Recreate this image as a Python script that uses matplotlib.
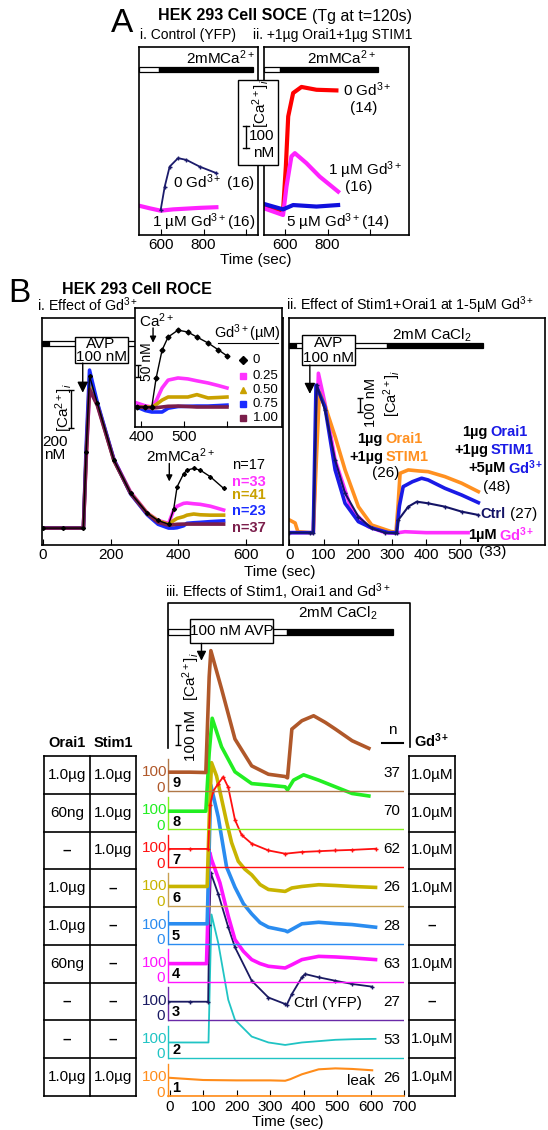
import numpy as np
import matplotlib
matplotlib.use('Agg')
import matplotlib.pyplot as plt
from matplotlib.patches import Rectangle

plt.rcParams['font.family'] = ['Liberation Sans', 'DejaVu Sans']
plt.rcParams['mathtext.fontset'] = 'custom'
plt.rcParams['mathtext.rm'] = 'Liberation Sans'
plt.rcParams['mathtext.it'] = 'Liberation Sans:italic'
plt.rcParams['mathtext.bf'] = 'Liberation Sans:bold'

# ---------------- data (time in s, [Ca2+]i in nM) ----------------

# A i. control (YFP), Ca added at ~600 s
a1_t_0gd = [600, 619, 642, 681, 720, 782, 860]
a1_0gd = [115, 223, 315, 354, 346, 315, 285]
a1_t_1gd = [499, 549, 600, 658, 782, 860]
a1_1gd = [135, 123, 112, 118, 125, 128]

# A ii. +1ug Orai1 + 1ug STIM1
a2_t_0gd = [503, 592, 605, 616, 639, 678, 748, 841]
a2_0gd = [131, 112, 315, 546, 654, 682, 669, 666]
a2_t_1gd = [503, 592, 608, 631, 647, 701, 763, 849]
a2_1gd = [123, 92, 223, 362, 377, 331, 269, 200]
a2_t_5gd = [503, 592, 639, 748, 849]
a2_5gd = [143, 118, 138, 131, 138]

# B i. effect of Gd3+ (0, 0.25, 0.5, 0.75, 1 uM)
bi_t = [0, 60, 120, 128, 138, 161, 210, 259, 308, 340, 371, 386, 396, 415, 425, 445, 464, 494, 533]
bi_gd0 = [100, 100, 100, 500, 900, 758, 458, 284, 179, 140, 120, 200, 317, 385, 405, 414, 405, 370, 309]
bi_gd025 = [100, 100, 100, 450, 830, 750, 460, 290, 180, 140, 125, 195, 215, 230, 232, 228, 225, 215, 195]
bi_gd050 = [100, 100, 100, 480, 890, 755, 455, 285, 178, 138, 120, 140, 151, 160, 168, 174, 170, 168, 168]
bi_gd075 = [100, 100, 100, 520, 931, 760, 460, 280, 170, 120, 100, 100, 102, 112, 125, 128, 130, 134, 138]
bi_gd100 = [100, 100, 100, 470, 830, 745, 455, 282, 175, 130, 115, 118, 120, 121, 121, 121, 121, 121, 121]
bi_n = ['n=17', 'n=33', 'n=41', 'n=23', 'n=37']

# B i. inset (Ca2+ re-addition)
inset_t = [390, 410, 425, 435, 449, 463, 486, 509, 530, 556, 580, 600]
inset_gd0 = [100, 100, 100, 220, 339, 394, 423, 415, 394, 369, 340, 315]
inset_gd025 = [117, 105, 100, 125, 180, 213, 222, 218, 210, 201, 190, 180]
inset_gd050 = [100, 100, 100, 110, 129, 142, 142, 142, 152, 138, 140, 142]
inset_gd075 = [100, 85, 79, 79, 79, 95, 102, 103, 104, 104, 106, 108]
inset_gd100 = [100, 98, 96, 97, 100, 103, 104, 102, 100, 100, 100, 100]
inset_labels = ['0', '0.25', '0.50', '0.75', '1.00']

# B ii. Stim1 + Orai1 at 1-5 uM Gd3+
bii_t_orai = [0, 17, 25, 60, 70, 80, 88, 104, 134, 163, 202, 241, 299, 312, 318, 324, 348, 380, 406, 455, 504, 553]
bii_orai = [195, 172, 107, 100, 100, 700, 1150, 1050, 816, 568, 294, 157, 107, 105, 300, 543, 568, 560, 555, 518, 469, 406]
bii_t_orai_gd = [0, 60, 70, 78, 104, 134, 163, 202, 241, 290, 314, 322, 333, 360, 387, 406, 455, 504, 553]
bii_orai_gd = [100, 100, 100, 1200, 1040, 568, 319, 182, 135, 100, 100, 300, 443, 480, 506, 493, 431, 381, 324]
bii_t_ctrl = [0, 60, 70, 80, 104, 134, 163, 202, 241, 280, 309, 314, 319, 348, 373, 406, 455, 504, 553]
bii_ctrl = [100, 100, 100, 1202, 1015, 642, 394, 219, 133, 100, 96, 100, 195, 294, 331, 319, 294, 257, 232]
bii_t_gd = [0, 60, 70, 85, 104, 134, 182, 231, 280, 309, 338, 400, 460, 523]
bii_gd = [100, 100, 100, 1289, 1067, 642, 269, 145, 100, 96, 107, 100, 100, 100]

# B iii. traces 1..9 (bottom to top)
trace1_t = [-5, 100, 200, 300, 345, 360, 395, 445, 495, 545, 605]
trace1 = [96, 84, 82, 82, 80, 88, 114, 140, 145, 142, 135]
trace2_t = [-5, 60, 116, 120, 125, 145, 175, 195, 245, 295, 345, 395, 445, 495, 545, 615]
trace2 = [81, 81, 81, 400, 753, 604, 305, 200, 112, 81, 68, 81, 88, 95, 98, 100]
trace3_t = [-5, 60, 115, 118, 123, 145, 175, 195, 245, 295, 345, 350, 365, 395, 405, 445, 495, 545, 605]
trace3 = [95, 95, 95, 500, 770, 661, 486, 381, 205, 117, 83, 80, 135, 223, 240, 223, 205, 188, 174]
trace4_t = [-5, 60, 110, 115, 120, 125, 150, 175, 195, 220, 245, 270, 295, 345, 365, 395, 445, 495, 545, 615]
trace4 = [95, 95, 95, 400, 677, 642, 520, 344, 221, 160, 116, 95, 81, 72, 89, 116, 133, 130, 125, 116]
trace5_t = [-5, 60, 112, 118, 123, 145, 170, 195, 220, 245, 270, 295, 345, 352, 395, 445, 495, 545, 615]
trace5 = [104, 104, 104, 500, 832, 665, 402, 296, 210, 156, 110, 86, 68, 62, 104, 112, 105, 100, 86]
trace6_t = [-5, 60, 112, 118, 125, 140, 155, 170, 185, 205, 225, 245, 270, 295, 345, 365, 395, 445, 495, 545, 615]
trace6 = [100, 100, 100, 450, 750, 680, 560, 440, 330, 232, 190, 161, 110, 84, 74, 92, 100, 109, 105, 100, 95]
trace7_t = [-5, 60, 115, 121, 130, 145, 160, 175, 195, 215, 245, 295, 345, 395, 445, 495, 545, 615]
trace7 = [97, 97, 97, 330, 400, 440, 475, 420, 250, 170, 125, 89, 72, 81, 85, 89, 92, 98]
trace8_t = [-5, 60, 108, 118, 127, 155, 195, 245, 295, 345, 352, 370, 400, 445, 495, 545, 595]
trace8 = [95, 95, 95, 400, 583, 433, 302, 240, 232, 223, 207, 258, 286, 258, 223, 188, 175]
trace9_t = [-5, 60, 108, 118, 123, 155, 195, 245, 295, 345, 352, 365, 395, 430, 465, 495, 545, 595]
trace9 = [100, 100, 98, 600, 738, 537, 274, 133, 89, 77, 70, 326, 370, 396, 361, 326, 265, 225]

orai1_amount = ['1.0µg', '60ng', '–', '1.0µg', '1.0µg', '60ng', '–', '–', '1.0µg']
stim1_amount = ['1.0µg', '1.0µg', '1.0µg', '–', '–', '–', '–', '–', '1.0µg']
gd_amount = ['1.0µM', '1.0µM', '1.0µM', '1.0µM', '–', '1.0µM', '–', '1.0µM', '1.0µM']
n_cells = ['37', '70', '62', '26', '28', '63', '27', '53', '26']   # rows top (trace 9) to bottom (trace 1)

# ---------------- helpers ----------------

W, H = 548, 1130
fig = plt.figure(figsize=(W / 100, H / 100), dpi=100)


def px_axes(x0, y0, x1, y1):
    ''' add axes from pixel box (top-left origin) '''
    return fig.add_axes([x0 / W, 1 - y1 / H, (x1 - x0) / W, (y1 - y0) / H])


def ftext(x, y, s, **kw):
    ''' figure text at pixel position '''
    return fig.text(x / W, 1 - y / H, s, **kw)


def fline(xs, ys, **kw):
    ''' figure line in pixel coordinates '''
    fig.add_artist(plt.Line2D([x / W for x in xs], [1 - y / H for y in ys],
                              transform=fig.transFigure, **kw))


def title_pair(x, y, bold, normal, fs):
    ''' bold text followed by normal text on one line '''
    t = ftext(x, y, bold, fontsize=fs, fontweight='bold', va='center')
    bb = t.get_window_extent(fig.canvas.get_renderer())
    ftext(bb.x1 + 5, y, normal, fontsize=fs, va='center')


def solution_bar(ax, segments, y, h):
    ''' open/filled bar showing the bath solution '''
    for t0, t1, col in segments:
        ax.add_patch(Rectangle((t0, y - h / 2), t1 - t0, h, fc=col, ec='black',
                               lw=0.9, clip_on=False, zorder=3))


def text_box(ax, x0, x1, y0, y1, lines, fs=11):
    ''' white box with centered lines of text (e.g. AVP 100 nM) '''
    ax.add_patch(Rectangle((x0, y0), x1 - x0, y1 - y0, fc='white', ec='black',
                           lw=1.0, clip_on=False, zorder=4))
    n = len(lines)
    for i, s in enumerate(lines):
        yy = y1 - (i + 0.5) * (y1 - y0) / n
        ax.text((x0 + x1) / 2, yy, s, ha='center', va='center', fontsize=fs, zorder=5)


def down_arrow(ax, x, y_from, y_to, ms=12):
    ax.annotate('', xy=(x, y_to), xytext=(x, y_from),
                arrowprops=dict(arrowstyle='-|>', color='black', lw=1.0,
                                mutation_scale=ms, shrinkA=0, shrinkB=0),
                annotation_clip=False, zorder=5)


def scale_bar(ax, x, y0, y1):
    ax.errorbar(x, (y0 + y1) / 2, yerr=(y1 - y0) / 2, color='black', lw=1.0,
                capsize=2.5, capthick=1.0, clip_on=False)


def two_color(ax, x, y, left, right, color, gap, fs=10.5):
    ''' black bold text left of x, coloured bold text right of x '''
    ax.text(x - gap, y, left, ha='right', va='center', fontsize=fs,
            fontweight='bold', clip_on=False)
    ax.text(x + gap, y, right, ha='left', va='center', fontsize=fs,
            fontweight='bold', color=color, clip_on=False)


def style_axes(ax, xticks, labels):
    ax.set_xticks(xticks)
    ax.set_xticklabels(labels)
    ax.set_yticks([])
    ax.tick_params(axis='x', direction='in', length=4, labelsize=11, pad=2)
    for s in ax.spines.values():
        s.set_linewidth(1.2)


# ---------------- A ----------------
navy = '#1b1b6b'
mag = '#ff22ff'

ftext(122, 24, 'A', fontsize=24, ha='center', va='center')
title_pair(158, 16, 'HEK 293 Cell SOCE', '(Tg at t=120s)', 11.5)
ftext(140, 35, 'i. Control (YFP)', fontsize=10, va='center')
ftext(253, 35, 'ii. +1µg Orai1+1µg STIM1', fontsize=10, va='center')

ax = px_axes(139, 47, 258, 235)
ax.plot(a1_t_1gd, a1_1gd, color=mag, lw=3)
ax.plot(a1_t_0gd, a1_0gd, color=navy, lw=1.3, marker='+', ms=3)
ax.set_xlim(499, 1054)
ax.set_ylim(0, 866)
style_axes(ax, [600, 800, 1000], ['600', '800', ''])
solution_bar(ax, [(499, 592, 'white'), (592, 1031, 'black')], 762, 22)
ax.text(880, 815, r'2mMCa$^{2+}$', ha='center', va='center', fontsize=11)
ax.text(1040, 238, r'0 Gd$^{3+}$ (16)', ha='right', va='center', fontsize=11)
ax.text(1040, 57, r'1 µM Gd$^{3+}$(16)', ha='right', va='center', fontsize=11)

ax = px_axes(264, 47, 409, 235)
ax.plot(a2_t_0gd, a2_0gd, color='#ff0000', lw=3)
ax.plot(a2_t_1gd, a2_1gd, color=mag, lw=3)
ax.plot(a2_t_5gd, a2_5gd, color='#1010dd', lw=3)
ax.set_xlim(503, 1180)
ax.set_ylim(0, 866)
style_axes(ax, [600, 800, 1000], ['600', '800', ''])
solution_bar(ax, [(503, 577, 'white'), (577, 1036, 'black')], 762, 22)
ax.text(864, 815, r'2mMCa$^{2+}$', ha='center', va='center', fontsize=11)
ax.text(872, 669, r'0 Gd$^{3+}$', ha='left', va='center', fontsize=11)
ax.text(969, 585, '(14)', ha='center', va='center', fontsize=11)
ax.text(802, 300, r'1 µM Gd$^{3+}$', ha='left', va='center', fontsize=11)
ax.text(945, 223, '(16)', ha='center', va='center', fontsize=11)
ax.text(1090, 57, r'5 µM Gd$^{3+}$(14)', ha='right', va='center', fontsize=11)

fig.add_artist(Rectangle((238 / W, 1 - 165 / H), 40 / W, 85 / H, transform=fig.transFigure,
                         fc='white', ec='black', lw=1.0, zorder=5))
ftext(261, 104, r'[Ca$^{2+}$]$_i$', rotation=90, ha='center', va='center', fontsize=11, zorder=6)
fline([246, 246], [126, 148], color='black', lw=1, zorder=6)
fline([243, 249], [126, 126], color='black', lw=1, zorder=6)
fline([243, 249], [148, 148], color='black', lw=1, zorder=6)
ftext(249, 136, '100', ha='left', va='center', fontsize=11, zorder=6)
ftext(253, 153, 'nM', ha='left', va='center', fontsize=11, zorder=6)
ftext(256, 260, 'Time (sec)', ha='center', va='center', fontsize=11)

# ---------------- B i ----------------
ftext(19, 293, 'B', fontsize=24, ha='center', va='center')
ftext(62, 290, 'HEK 293 Cell ROCE', fontsize=11.5, fontweight='bold', va='center')
ftext(37, 305, r'i. Effect of Gd$^{3+}$', fontsize=10.3, va='center')
ftext(286, 305, r'ii. Effect of Stim1+Orai1 at 1-5µM Gd$^{3+}$', fontsize=10.3, va='center')

bi_colors = ['#000000', '#ff33ff', '#c9a100', '#1a2cff', '#7b1e4b']
bi_series = [bi_gd0, bi_gd025, bi_gd050, bi_gd075, bi_gd100]
ax = px_axes(42, 318, 283, 545)
for ys, c in zip(bi_series[1:], bi_colors[1:]):
    ax.plot(bi_t, ys, color=c, lw=2.6)
ax.plot(bi_t, bi_gd0, color='black', lw=1.0, marker='D', ms=2)
ax.set_xlim(-2, 708)
ax.set_ylim(11, 1205)
style_axes(ax, [0, 200, 400, 600], ['0', '200', '400', '600'])
solution_bar(ax, [(-2, 18, 'black'), (18, 400, 'white')], 1073, 26)
text_box(ax, 94, 250, 968, 1105, ['AVP', '100 nM'])
down_arrow(ax, 118, 968, 812, ms=16)
scale_bar(ax, 82, 626, 826)
ax.text(62, 736, r'[Ca$^{2+}$]$_i$', rotation=90, ha='center', va='center', fontsize=11)
ax.text(35, 552, '200', ha='center', va='center', fontsize=11)
ax.text(35, 484, 'nM', ha='center', va='center', fontsize=11)
ax.text(406, 482, r'2mMCa$^{2+}$', ha='center', va='center', fontsize=11)
down_arrow(ax, 373, 440, 345, ms=9)
for s, c, y in zip(bi_n, bi_colors, [431, 342, 276, 189, 100]):
    ax.text(559, y, s, color=c, ha='left', va='center', fontsize=10.5,
            fontweight='normal' if c == '#000000' else 'bold')

# inset
ins = px_axes(135, 308, 282, 427)
inset_series = [inset_gd0, inset_gd025, inset_gd050, inset_gd075, inset_gd100]
inset_markers = ['D', 's', '^', 's', 's']
for ys, c in zip(inset_series[1:], bi_colors[1:]):
    ins.plot(inset_t, ys, color=c, lw=2.6)
ins.plot(inset_t, inset_gd0, color='black', lw=1.0, marker='D', ms=2.5)
ins.set_xlim(386, 728)
ins.set_ylim(16, 516)
style_axes(ins, [400, 500, 600], ['400', '500', ''])
ins.text(437, 462, r'Ca$^{2+}$', ha='center', va='center', fontsize=11)
down_arrow(ins, 428, 432, 370, ms=9)
scale_bar(ins, 393, 226, 276)
ins.text(414, 290, '50 nM', rotation=90, ha='center', va='center', fontsize=10)
ins.text(648, 411, r'Gd$^{3+}$(µM)', ha='center', va='center', fontsize=10.5)
ins.plot([579, 719], [369, 369], color='black', lw=0.8)
for s, c, m, y in zip(inset_labels, bi_colors, inset_markers, [297, 232, 173, 114, 55]):
    ins.plot([637], [y], marker=m, color=c, ms=4, ls='none')
    ins.text(660, y, s, ha='left', va='center', fontsize=9.5)

# ---------------- B ii ----------------
ax = px_axes(289, 318, 545, 545)
ax.plot(bii_t_gd, bii_gd, color='#ff30ff', lw=2.6)
ax.plot(bii_t_orai, bii_orai, color='#ff9020', lw=2.6)
ax.plot(bii_t_orai_gd, bii_orai_gd, color='#1a1ae6', lw=2.6)
ax.plot(bii_t_ctrl, bii_ctrl, color='#141466', lw=1.5, marker='+', ms=3)
ax.set_xlim(-1, 748)
ax.set_ylim(8, 1701)
style_axes(ax, [0, 100, 200, 300, 400, 500], ['0', '100', '200', '300', '400', '500'])
solution_bar(ax, [(-1, 20, 'black'), (20, 286, 'white'), (286, 566, 'black')], 1493, 37)
ax.text(418, 1575, r'2mM CaCl$_2$', ha='center', va='center', fontsize=11)
text_box(ax, 37, 192, 1350, 1574, ['AVP', '100 nM'])
down_arrow(ax, 60, 1350, 1135, ms=16)
scale_bar(ax, 207, 1000, 1105)
ax.text(240, 1068, '100 nM', rotation=90, ha='center', va='center', fontsize=10.5)
ax.text(302, 1142, r'[Ca$^{2+}$]$_i$', rotation=90, ha='center', va='center', fontsize=10.5)
two_color(ax, 278, 796, '1µg', 'Orai1', '#ff9020', 4)
two_color(ax, 278, 661, '+1µg', 'STIM1', '#ff9020', 4)
ax.text(283, 546, '(26)', ha='center', va='center', fontsize=11)
two_color(ax, 585, 852, '1µg', 'Orai1', '#1a1ae6', 4)
two_color(ax, 585, 717, '+1µg', 'STIM1', '#1a1ae6', 4)
two_color(ax, 636, 582, '+5µM', r'Gd$^{\mathbf{3+}}$', '#1a1ae6', 4)
ax.text(608, 440, '(48)', ha='center', va='center', fontsize=11)
ax.text(633, 239, 'Ctrl', ha='right', va='center', fontsize=10.5, fontweight='bold', color='#141466')
ax.text(645, 239, '(27)', ha='left', va='center', fontsize=11)
two_color(ax, 610, 83, '1µM', r'Gd$^{\mathbf{3+}}$', '#ff30ff', 4)
ax.text(595, -44, '(33)', ha='center', va='center', fontsize=11, clip_on=False)
ftext(280, 572, 'Time (sec)', ha='center', va='center', fontsize=11)

# ---------------- B iii ----------------
ftext(165, 592, r'iii. Effects of Stim1, Orai1 and Gd$^{3+}$', fontsize=10.3, va='center')

traces = [(trace1_t, trace1), (trace2_t, trace2), (trace3_t, trace3), (trace4_t, trace4),
          (trace5_t, trace5), (trace6_t, trace6), (trace7_t, trace7), (trace8_t, trace8),
          (trace9_t, trace9)]
trace_colors = ['#ff8c1a', '#20c4c4', '#1a1a62', '#ff14ff', '#2a8cf0', '#c8b400', '#ff1010', '#22ee22', '#b0582a']
zero_colors = ['#ff8c1a', '#20c4c4', '#6a2aa8', '#ff14ff', '#2a8cf0', '#c8a050', '#ff1010', '#88ee22', '#b07848']
trace_lw = [1.5, 1.3, 1.3, 2.6, 2.6, 2.6, 1.3, 2.6, 2.6]
step = 200

ax = px_axes(168, 603, 404, 1096)
x0, x1 = -5, 700
ytop = 2588
for k, ((tt, yy), c, zc, lw) in enumerate(zip(traces, trace_colors, zero_colors, trace_lw)):
    off = k * step
    ax.plot([x0, x1], [off, off], color=zc, lw=1.0)
    ax.plot([x0, x0], [off, off + 170], color=zc, lw=1.0, clip_on=False)
    ax.plot(tt, np.array(yy) + off, color=c, lw=lw,
            marker='+' if k in (2, 6) else None, ms=3)
    ax.text(x0 - 2, off + 100, '100', color=c, ha='right', va='center', fontsize=11, clip_on=False)
    ax.text(x0 - 10, off + 18, '0', color=c, ha='right', va='center', fontsize=11, clip_on=False)
    ax.text(x0 + 12, off + 4, str(k + 1), ha='left', va='bottom', fontsize=10.5, fontweight='bold')
    ax.text(664, off + 95, n_cells[8 - k], ha='center', va='center', fontsize=11, clip_on=False)

ax.set_xlim(x0, x1)
ax.set_ylim(0, ytop)
ax.set_xticks([0, 100, 200, 300, 400, 500, 600, 700])
ax.set_yticks([])
ax.tick_params(axis='x', direction='in', length=4, labelsize=11, pad=3)
for s in ['top', 'right', 'left']:
    ax.spines[s].set_visible(False)
ax.spines['bottom'].set_color('#ff8c1a')
ax.spines['bottom'].set_linewidth(1.2)

# frame, bar and AVP marker above traces
ax.plot([x0, x0, 717, 717], [1827, ytop, ytop, 1832], color='black', lw=1.2, clip_on=False)
solution_bar(ax, [(x0, 60, 'white'), (310, 350, 'white'), (350, 667, 'black')], 2437, 34)
text_box(ax, 60, 310, 2376, 2502, ['100 nM AVP'])
ax.text(503, 2535, r'2mM CaCl$_2$', ha='center', va='center', fontsize=11)
down_arrow(ax, 95, 2376, 2285, ms=14)
scale_bar(ax, 25, 1845, 1950)
ax.text(63, 1890, '100 nM', rotation=90, ha='center', va='center', fontsize=11)
ax.text(63, 2200, r'[Ca$^{2+}$]$_i$', rotation=90, ha='center', va='center', fontsize=11)
ax.text(473, 488, 'Ctrl (YFP)', ha='center', va='center', fontsize=11)
ax.text(573, 79, 'leak', ha='center', va='center', fontsize=11)
ftext(288, 1122, 'Time (sec)', ha='center', va='center', fontsize=11)

# n header
ftext(392, 730, 'n', ha='center', va='center', fontsize=11)
fline([382, 403], [743, 743], color='black', lw=1.5)

# tables
ftext(67, 743, 'Orai1', ha='center', va='center', fontsize=10.5, fontweight='bold')
ftext(113, 743, 'Stim1', ha='center', va='center', fontsize=10.5, fontweight='bold')
ftext(432, 741, r'Gd$^{\mathbf{3+}}$', ha='center', va='center', fontsize=10.5, fontweight='bold')

tab = px_axes(44, 756, 136, 1096)
tab.set_xlim(0, 2)
tab.set_ylim(0, 9)
tab.axis('off')
for i in range(10):
    tab.plot([0, 2], [i, i], color='black', lw=1.2, clip_on=False)
for xv in [0, 1, 2]:
    tab.plot([xv, xv], [0, 9], color='black', lw=1.2, clip_on=False)
for i, (o, s) in enumerate(zip(orai1_amount, stim1_amount)):
    yc = 9 - i - 0.5
    tab.text(0.5, yc, o, ha='center', va='center', fontsize=11,
             fontweight='bold' if o == '–' else 'normal')
    tab.text(1.5, yc, s, ha='center', va='center', fontsize=11,
             fontweight='bold' if s == '–' else 'normal')

tab2 = px_axes(409, 756, 455, 1096)
tab2.set_xlim(0, 1)
tab2.set_ylim(0, 9)
tab2.axis('off')
for i in range(10):
    tab2.plot([0, 1], [i, i], color='black', lw=1.2, clip_on=False)
for xv in [0, 1]:
    tab2.plot([xv, xv], [0, 9], color='black', lw=1.2, clip_on=False)
for i, g in enumerate(gd_amount):
    tab2.text(0.5, 9 - i - 0.5, g, ha='center', va='center', fontsize=11,
              fontweight='bold' if g == '–' else 'normal')

fig.savefig('out.png', dpi=100)
